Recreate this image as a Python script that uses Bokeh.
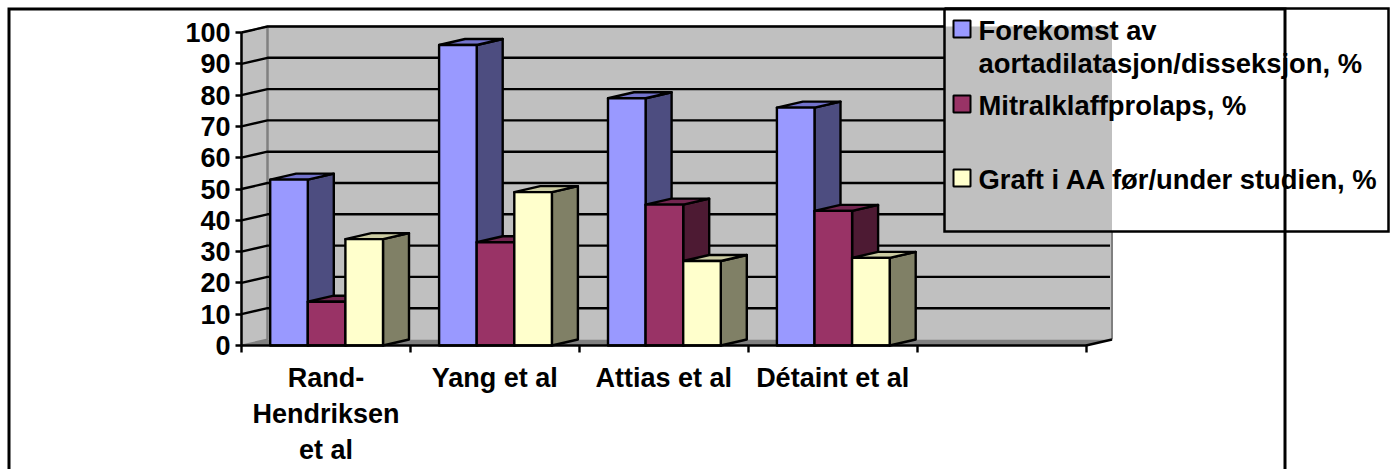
from bokeh.core.properties import value
from bokeh.embed import file_html
from bokeh.models import FixedTicker, LinearAxis, Range1d
from bokeh.plotting import figure
from bokeh.resources import INLINE

categories = ["Rand-\nHendriksen\net al", "Yang et al", "Attias et al", "Détaint et al"]
series_names = ["Forekomst av\naortadilatasjon/disseksjon, %", "Mitralklaffprolaps, %", "Graft i AA før/under studien, %"]
aorta = [53, 96, 79, 76]
mitral = [14, 33, 45, 43]
graft = [34, 49, 27, 28]
y_ticks = [0, 10, 20, 30, 40, 50, 60, 70, 80, 90, 100]
slots = 5  # the category axis leaves one empty slot on the right

front = ["#9999FF", "#993366", "#FFFFCC"]
side = ["#4D4D80", "#4D1A33", "#808066"]
top = ["#7373CC", "#732650", "#CCCCA3"]

W, H = 1391, 469
X0, Y0 = 241, 345        # pixel position of the axis origin
PX_X, PX_Y = 168.9, 3.13  # pixels per category, pixels per percent
FONT = "Liberation Sans"
LW = 2.4


def dx(px):
    return (px - X0) / PX_X


def dy(px):
    return (Y0 - px) / PX_Y


DEPTH_X, DEPTH_Y = 26 / PX_X, 6 / PX_Y
BAR_W, BAR_OFF = 37.6 / PX_X, 28.7 / PX_X

p = figure(width=W, height=H, output_backend="svg", toolbar_location=None,
           x_axis_type=None, y_axis_type=None,
           x_range=Range1d(dx(0), dx(W)), y_range=Range1d(dy(H), dy(0)),
           min_border=0, outline_line_color=None, background_fill_color="white")
p.grid.visible = False

LEG_L, LEG_R, LEG_T, LEG_B = 944, 1388, 8, 231

# Box walls and floor
p.patch([DEPTH_X, slots + DEPTH_X, slots + DEPTH_X, DEPTH_X],
        [DEPTH_Y, DEPTH_Y, 100 + DEPTH_Y, 100 + DEPTH_Y],
        fill_color="#C0C0C0", line_color=None)
p.patch([0, DEPTH_X, DEPTH_X, 0], [0, DEPTH_Y, 100 + DEPTH_Y, 100],
        fill_color="#C0C0C0", line_color="#808080", line_width=2)
p.patch([0, DEPTH_X, slots + DEPTH_X, slots], [0, DEPTH_Y, DEPTH_Y, 0],
        fill_color="#808080", line_color=None)
p.line([DEPTH_X, DEPTH_X, dx(LEG_L)], [DEPTH_Y, 100 + DEPTH_Y, 100 + DEPTH_Y],
       line_color="#808080", line_width=2)
p.line([slots + DEPTH_X] * 2, [DEPTH_Y, dy(LEG_B)], line_color="#808080", line_width=2)
p.line([slots, slots + DEPTH_X], [0, DEPTH_Y], line_color="black", line_width=LW)

# Gridlines wrap from the side wall onto the back wall and stop at the key box
for t in y_ticks[1:]:
    back = t + DEPTH_Y
    end = dx(LEG_L) if back > dy(LEG_B) else slots + DEPTH_X - 2 / PX_X
    p.line([0, DEPTH_X, end], [t, back, back], line_color="black", line_width=LW)

# Bars: within a group the series are stacked front to back from left to right
for c in range(len(categories)):
    for s, vals in enumerate((aorta, mitral, graft)):
        v = vals[c]
        x1 = c + BAR_OFF + s * BAR_W
        x2 = x1 + BAR_W
        style = dict(line_color="black", line_width=LW, line_join="round")
        p.patch([x2, x2 + DEPTH_X, x2 + DEPTH_X, x2],
                [0, DEPTH_Y, v + DEPTH_Y, v], fill_color=side[s], **style)
        p.patch([x1, x2, x2 + DEPTH_X, x1 + DEPTH_X],
                [v, v, v + DEPTH_Y, v + DEPTH_Y], fill_color=top[s], **style)
        p.patch([x1, x2, x2, x1], [0, 0, v, v], fill_color=front[s], **style)

# Axes sit on the origin of the full-canvas plot area
yaxis = LinearAxis(fixed_location=0, bounds=(0, 100), ticker=FixedTicker(ticks=y_ticks),
                   axis_line_color="black", axis_line_width=LW,
                   major_tick_line_color="black", major_tick_line_width=LW,
                   major_tick_in=0, major_tick_out=6, minor_tick_line_color=None,
                   major_label_standoff=5, major_label_text_font=FONT,
                   major_label_text_font_size="27px", major_label_text_font_style="bold",
                   major_label_text_color="black")
p.add_layout(yaxis, "left")

xticks = LinearAxis(fixed_location=0, bounds=(0, slots), ticker=FixedTicker(ticks=list(range(slots + 1))),
                    axis_line_color="black", axis_line_width=LW,
                    major_tick_line_color="black", major_tick_line_width=LW,
                    major_tick_in=0, major_tick_out=7, minor_tick_line_color=None,
                    major_label_text_color=None)
p.add_layout(xticks, "below")

centers = [i + 0.5 for i in range(len(categories))]
xlabels = LinearAxis(fixed_location=0, ticker=FixedTicker(ticks=centers),
                     major_label_overrides=dict(zip(centers, categories)),
                     axis_line_color=None, major_tick_line_color=None, minor_tick_line_color=None,
                     major_tick_in=0, major_tick_out=0, major_label_standoff=17,
                     major_label_text_font=FONT, major_label_text_font_size="27px",
                     major_label_text_font_style="bold", major_label_text_color="black",
                     major_label_text_line_height=1.2)
p.add_layout(xlabels, "below")

# Key: swatches and labels
swatch_tops = [20, 95, 169]
for top_px, colour in zip(swatch_tops, front):
    p.patch([dx(953), dx(970), dx(970), dx(953)],
            [dy(top_px), dy(top_px), dy(top_px + 17), dy(top_px + 17)],
            fill_color=colour, line_color="black", line_width=2, level="overlay")
lines = series_names[0].split("\n") + series_names[1:]
p.text([dx(978)] * 4, [dy(v) for v in (30, 63, 105, 179)], text=lines,
       text_font=value(FONT), text_font_size="27.4px", text_font_style="bold",
       text_color="black", text_baseline="middle", level="overlay")

# Outer frames
frame = dict(line_color="black", level="overlay", line_join="miter")
p.line([dx(LEG_L), dx(LEG_L), dx(LEG_R), dx(LEG_R), dx(LEG_L)],
       [dy(LEG_T), dy(LEG_B), dy(LEG_B), dy(LEG_T), dy(LEG_T)], line_width=2.5, **frame)
p.line([dx(8.5), dx(8.5), dx(1284.5), dx(1284.5)], [dy(H), dy(8.5), dy(8.5), dy(H)],
       line_width=3, **frame)

open("out.html", "w").write(file_html(p, INLINE))
